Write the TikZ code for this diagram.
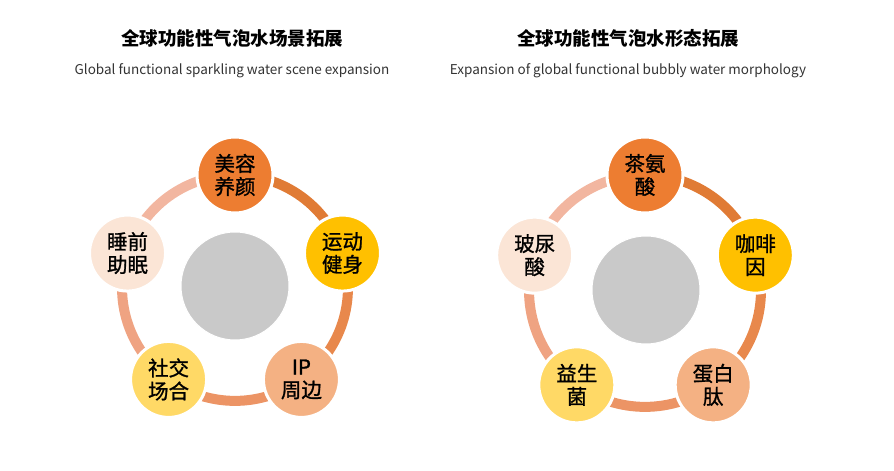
\documentclass[tikz,border=0pt]{standalone}
\usepackage{fontspec}
\setmainfont{Noto Sans CJK SC}
\newfontfamily\itemfont[FakeBold=1.2]{Noto Sans CJK SC}
\usepackage{xcolor}
\usepackage{tikz}
\usetikzlibrary{positioning,backgrounds}
\definecolor{orangeA}{HTML}{ED7D31}
\definecolor{goldA}{HTML}{FFC000}
\definecolor{peachA}{HTML}{F4B183}
\definecolor{yellowA}{HTML}{FFD966}
\definecolor{creamA}{HTML}{FBE5D6}
\definecolor{greyA}{HTML}{C9C9C9}
\definecolor{ringa}{HTML}{E07B35}
\definecolor{ringb}{HTML}{E8884C}
\definecolor{ringc}{HTML}{EC9465}
\definecolor{ringd}{HTML}{EFA382}
\definecolor{ringe}{HTML}{F2B6A0}
\tikzset{item node/.style={circle,draw=white,line width=3pt,minimum size=76pt,inner sep=0pt,
            align=center,font=\itemfont\fontsize{20.5}{23}\selectfont},
         hub node/.style={circle,fill=greyA,draw=white,line width=1pt,minimum size=108pt},
         ring/.style={line width=10pt,bend left=36,looseness=0.94},
         title/.style={font=\fontsize{18.5}{20}\selectfont\bfseries},
         subtitle/.style={font=\fontsize{13.5}{15}\selectfont,text=black!80}
            }

\begin{document}
\begin{tikzpicture}[x=1pt,y=1pt]
    \useasboundingbox (0,0) rectangle (894,471);

    % titles
    \node[title] (t1) at (232,433) {全球功能性气泡水场景拓展};
    \node[subtitle] (s1) [below = 10pt of t1] {Global functional sparkling water scene expansion};
    \node[title] (t2) at (628,433) {全球功能性气泡水形态拓展};
    \node[subtitle] (s2) [below = 10pt of t2] {Expansion of global functional bubbly water morphology};

    % scene expansion
    \begin{scope}[shift={(235,183)}]
    \node[hub node] (c1) at (0,2) {};
    \node[item node,fill=orangeA] (l1) at (90:113)  {美容\\养颜};
    \node[item node,fill=goldA]   (l2) at (18:113)  {运动\\健身};
    \node[item node,fill=peachA]  (l3) at (-54:113) {IP\\周边};
    \node[item node,fill=yellowA] (l4) at (-126:113) {社交\\场合};
    \node[item node,fill=creamA]  (l5) at (162:113) {睡前\\助眠};
    \end{scope}

    % morphology expansion
    \begin{scope}[shift={(645,180)}]
    \node[hub node] (c2) at (1,1) {};
    \node[item node,fill=orangeA] (r1) at (90:116)  {茶氨\\酸};
    \node[item node,fill=goldA]   (r2) at (18:116)  {咖啡\\因};
    \node[item node,fill=peachA]  (r3) at (-54:116) {蛋白\\肽};
    \node[item node,fill=yellowA] (r4) at (-126:116) {益生\\菌};
    \node[item node,fill=creamA]  (r5) at (162:116) {玻尿\\酸};
    \end{scope}

    \begin{pgfonlayer}{background}
    \path
    (l1.center) edge[ring,draw=ringa] (l2.center)
    (l2.center) edge[ring,draw=ringb] (l3.center)
    (l3.center) edge[ring,draw=ringc] (l4.center)
    (l4.center) edge[ring,draw=ringd] (l5.center)
    (l5.center) edge[ring,draw=ringe] (l1.center);

    \path
    (r1.center) edge[ring,draw=ringa] (r2.center)
    (r2.center) edge[ring,draw=ringb] (r3.center)
    (r3.center) edge[ring,draw=ringc] (r4.center)
    (r4.center) edge[ring,draw=ringd] (r5.center)
    (r5.center) edge[ring,draw=ringe] (r1.center);
    \end{pgfonlayer}

\end{tikzpicture}
\end{document}
